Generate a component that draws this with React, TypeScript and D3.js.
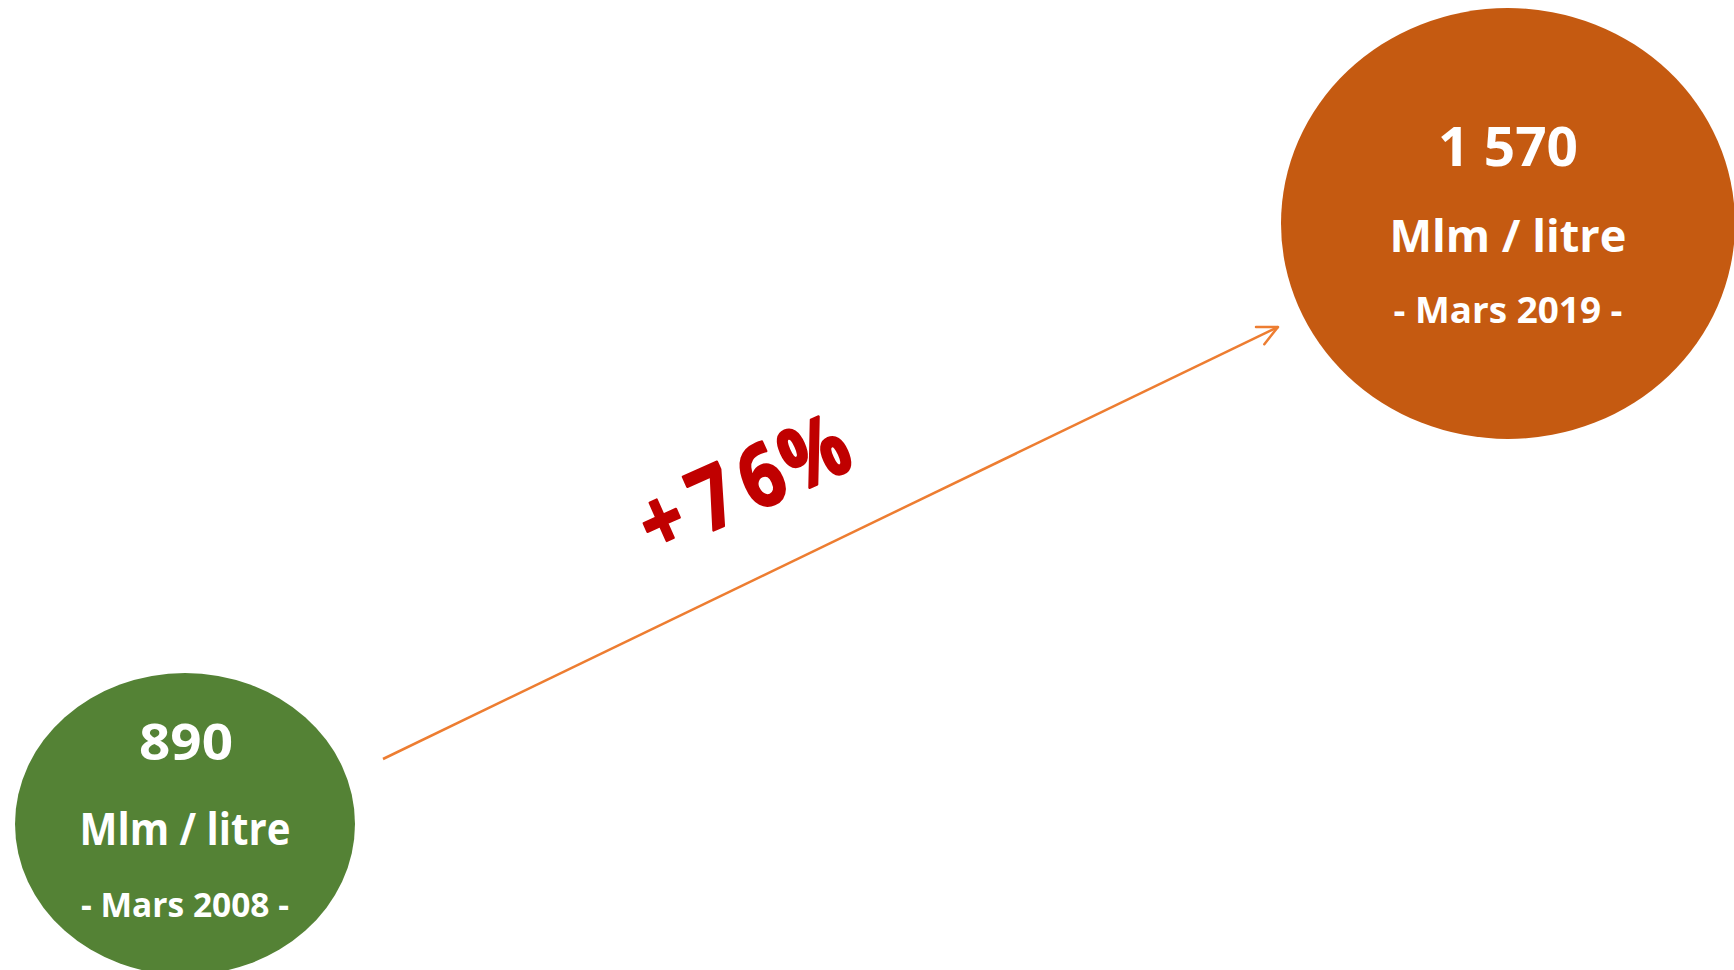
import React from "react";
import * as d3 from "d3";

// ---- data ----
const periods = ["Mars 2008", "Mars 2019"];
const values = [890, 1570];
const unitLabel = "Mlm / litre";
const changeLabel = "+76%";

const W = 1734;
const H = 970;

const fmt = (v: number) => d3.format(",")(v).replace(/,/g, " ");

export default function App() {
  // layout: bubble centres mapped by period index
  const cx = d3.scaleLinear().domain([0, 1]).range([185, 1508]);
  const cy = d3.scaleLinear().domain([0, 1]).range([824, 223.5]);
  const rx = [170, 227];
  const ry = [151, 215.5];
  const fills = ["#548235", "#C55A11"];

  const txt = [
    { dx: 1, v: -64, u: 21, d: 93, fv: 51, fu: 44, fd: 34, wv: 94, wu: 211, wd: 208 },
    { dx: 0, v: -57.5, u: 28.5, d: 99.5, fv: 54, fu: 45, fd: 36, wv: 140, wu: 237, wd: 229 },
  ];

  const arrowStart: [number, number] = [383, 759];
  const arrowEnd: [number, number] = [1278, 327];
  const line = d3.line();
  const ang = Math.atan2(arrowEnd[1] - arrowStart[1], arrowEnd[0] - arrowStart[0]);
  const headLen = 22;
  const spread = 0.45;
  const h1: [number, number] = [
    arrowEnd[0] - headLen * Math.cos(ang - spread),
    arrowEnd[1] - headLen * Math.sin(ang - spread),
  ];
  const h2: [number, number] = [
    arrowEnd[0] - headLen * Math.cos(ang + spread),
    arrowEnd[1] - headLen * Math.sin(ang + spread),
  ];

  // rotated label: per-character placement along the baseline
  const rot = -24;
  const charPos = [0, 56, 109, 167];
  const sx = 0.85;
  const chars = changeLabel.split("");

  return (
    <svg
      width={W}
      height={H}
      style={{ position: "absolute", left: 0, top: 0, background: "#fff" }}
      fontFamily="'Open Sans', Lato, sans-serif"
    >
      <rect width={W} height={H} fill="#fff" />
      {values.map((v, i) => {
        const x = cx(i);
        const y = cy(i);
        const t = txt[i];
        return (
          <g key={i}>
            <ellipse cx={x} cy={y} rx={rx[i]} ry={ry[i]} fill={fills[i]} />
            <text
              x={x + t.dx}
              y={y + t.v}
              textAnchor="middle"
              fill="#fff"
              fontWeight="bold"
              fontSize={t.fv}
              textLength={t.wv}
              lengthAdjust="spacingAndGlyphs"
            >
              {fmt(v)}
            </text>
            <text
              x={x}
              y={y + t.u}
              textAnchor="middle"
              fill="#fff"
              fontWeight="bold"
              fontSize={t.fu}
              textLength={t.wu}
              lengthAdjust="spacingAndGlyphs"
            >
              {unitLabel}
            </text>
            <text
              x={x}
              y={y + t.d}
              textAnchor="middle"
              fill="#fff"
              fontWeight="bold"
              fontSize={t.fd}
              textLength={t.wd}
              lengthAdjust="spacingAndGlyphs"
            >
              {`- ${periods[i]} -`}
            </text>
          </g>
        );
      })}
      <path d={line([arrowStart, arrowEnd]) || ""} stroke="#ED7D31" strokeWidth={2.5} fill="none" />
      <path
        d={line([h1, arrowEnd, h2]) || ""}
        stroke="#ED7D31"
        strokeWidth={2.5}
        fill="none"
        strokeLinecap="round"
        strokeLinejoin="round"
      />
      <g transform={`translate(674,548) rotate(${rot}) scale(${sx},1)`}>
        <text
          fill="#C00000"
          stroke="#C00000"
          strokeWidth={2.5}
          strokeLinejoin="round"
          fontWeight="bold"
          fontSize={86}
          textAnchor="middle"
          x={charPos.map((p) => p / sx).join(" ")}
          y={0}
        >
          {chars.join("")}
        </text>
      </g>
    </svg>
  );
}
